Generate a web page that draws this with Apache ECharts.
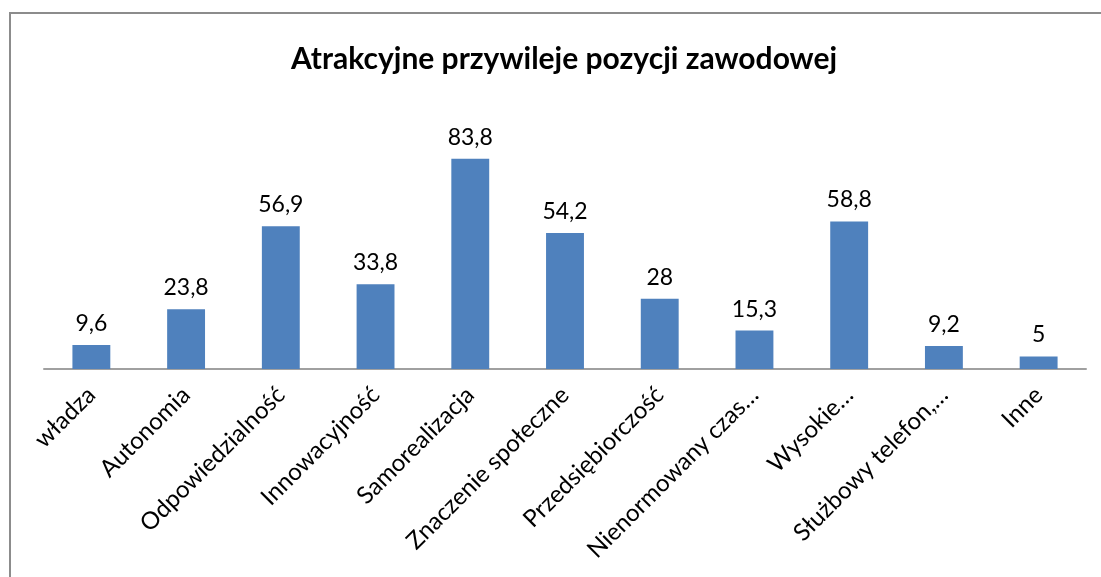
<!DOCTYPE html>
<html>
<head>
<meta charset="utf-8">
<script src="https://cdn.jsdelivr.net/npm/echarts@6/dist/echarts.min.js"></script>
<style>
  html, body { margin: 0; padding: 0; background: #fff; }
  #frame { position: absolute; left: 9px; top: 12px; width: 1200px; height: 700px;
           border-left: 2px solid #8c8c8c; border-top: 2px solid #8c8c8c; }
  #chart { position: absolute; left: 0; top: 0; width: 1101px; height: 577px; }
</style>
</head>
<body>
<div id="frame"></div>
<div id="chart"></div>
<script>
const categories = ['władza', 'Autonomia', 'Odpowiedzialność', 'Innowacyjność', 'Samorealizacja',
  'Znaczenie społeczne', 'Przedsiębiorczość', 'Nienormowany czas…', 'Wysokie…',
  'Służbowy telefon,…', 'Inne'];
const values = [9.6, 23.8, 56.9, 33.8, 83.8, 54.2, 28, 15.3, 58.8, 9.2, 5];

const font = 'Lato, "Open Sans", sans-serif';

var myChart = echarts.init(document.getElementById('chart'));

myChart.setOption({
    backgroundColor: 'transparent',
    animation: false,
    title: {
        text: 'Atrakcyjne przywileje pozycji zawodowej',
        left: 559,
        top: 39,
        textAlign: 'center',
        textStyle: { fontFamily: font, fontSize: 30, fontWeight: 'bold', color: '#000' }
    },
    grid: { left: 44, right: 15, top: 118, bottom: 208, containLabel: false },
    xAxis: {
        type: 'category',
        data: categories,
        axisLine: { lineStyle: { color: '#a0a0a0', width: 2 } },
        axisTick: { show: false },
        axisLabel: {
            rotate: 45,
            interval: 0,
            margin: 22,
            fontFamily: font,
            fontSize: 24,
            color: '#000'
        }
    },
    yAxis: {
        type: 'value',
        min: 0,
        max: 100,
        show: false,
        splitLine: { show: false }
    },
    series: [{
        type: 'bar',
        data: values,
        barWidth: '40%',
        itemStyle: { color: '#4F81BD' },
        label: {
            show: true,
            position: 'top',
            distance: 10,
            fontFamily: font,
            fontSize: 23,
            color: '#000',
            formatter: p => String(p.value).replace('.', ',')
        }
    }]
});
</script>
</body>
</html>
